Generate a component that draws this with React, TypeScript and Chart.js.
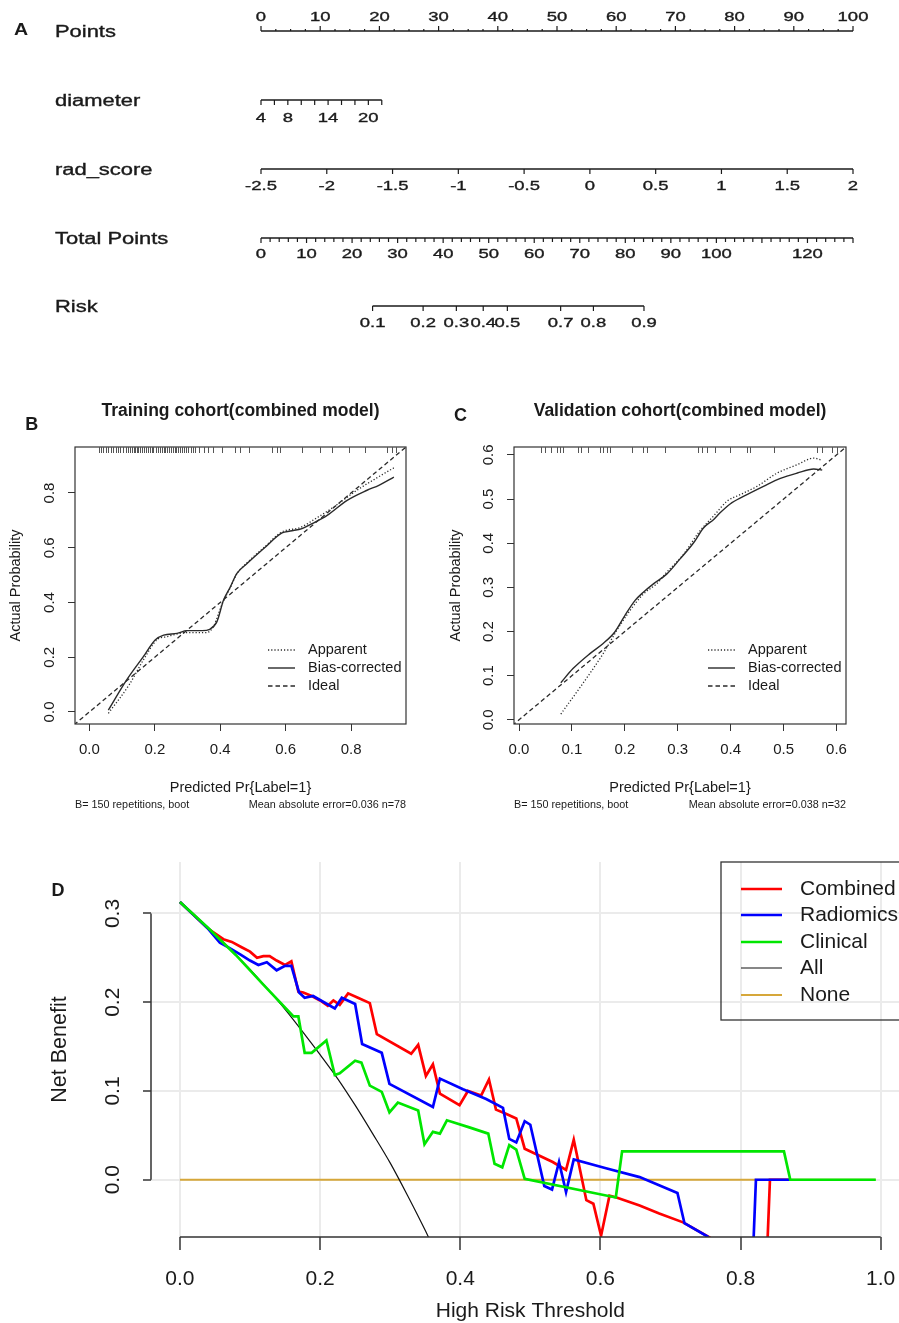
import React, { useEffect, useRef } from "react";
import { Chart, registerables } from "chart.js";

Chart.register(...registerables);

const FONT = '"Liberation Sans", Arial, Helvetica, sans-serif';
const INK = "#1a1a1a";
Chart.defaults.font.family = FONT;
Chart.defaults.color = INK;

/* ================= A: nomogram ================= */
const pointsLabels = [0, 10, 20, 30, 40, 50, 60, 70, 80, 90, 100];
const pointsMinorStep = 2.5;
const diameterRange = [4, 22];
const diameterMaxPoints = 20.4;
const diameterTicks = [4, 6, 8, 10, 12, 14, 16, 18, 20, 22];
const diameterLabels = [4, 8, 14, 20];
const radScoreTicks = [-2.5, -2, -1.5, -1, -0.5, 0, 0.5, 1, 1.5, 2];
const totalPointsRange = [0, 130];
const totalPointsMinorStep = 2;
const totalPointsLabels = [0, 10, 20, 30, 40, 50, 60, 70, 80, 90, 100, 120];
const riskLabels = ["0.1", "0.2", "0.3", "0.4", "0.5", "0.7", "0.8", "0.9"];
const riskAtTotalPoints = [24.5, 35.6, 42.9, 48.8, 54.1, 65.8, 73.0, 84.1];
const nomogramRows = ["Points", "diameter", "rad_score", "Total Points", "Risk"];

/* ================= B / C: calibration ================= */
const trainTicks = [0, 0.2, 0.4, 0.6, 0.8];
const trainRange = [-0.044, 0.968];
const trainApparentX = [0.058, 0.122, 0.165, 0.206, 0.237, 0.298, 0.359, 0.38, 0.405, 0.431, 0.451, 0.482, 0.533, 0.589, 0.645, 0.691, 0.747, 0.818, 0.88, 0.931];
const trainApparentY = [-0.005, 0.1, 0.19, 0.263, 0.275, 0.29, 0.29, 0.314, 0.392, 0.455, 0.505, 0.545, 0.6, 0.658, 0.674, 0.706, 0.749, 0.81, 0.856, 0.892];
const trainBiasX = [0.058, 0.114, 0.165, 0.201, 0.227, 0.268, 0.298, 0.345, 0.368, 0.39, 0.41, 0.431, 0.451, 0.482, 0.533, 0.589, 0.614, 0.65, 0.681, 0.727, 0.788, 0.849, 0.885, 0.931];
const trainBiasY = [0.007, 0.117, 0.202, 0.263, 0.281, 0.287, 0.297, 0.297, 0.302, 0.33, 0.408, 0.457, 0.506, 0.542, 0.597, 0.654, 0.661, 0.67, 0.688, 0.718, 0.773, 0.81, 0.828, 0.858];
const trainRug = [0.028, 0.035, 0.042, 0.05, 0.058, 0.066, 0.072, 0.08, 0.088, 0.095, 0.102, 0.112, 0.118, 0.124, 0.13, 0.136, 0.14, 0.146, 0.15, 0.156, 0.16, 0.166, 0.172, 0.178, 0.184, 0.19, 0.196, 0.204, 0.21, 0.216, 0.222, 0.228, 0.232, 0.238, 0.244, 0.25, 0.256, 0.262, 0.266, 0.27, 0.276, 0.282, 0.29, 0.296, 0.3, 0.31, 0.316, 0.322, 0.335, 0.35, 0.362, 0.378, 0.405, 0.446, 0.461, 0.487, 0.558, 0.574, 0.584, 0.65, 0.706, 0.742, 0.793, 0.844, 0.91, 0.926, 0.938];

const validTicks = [0, 0.1, 0.2, 0.3, 0.4, 0.5, 0.6];
const validRange = [-0.0095, 0.618];
const validApparentX = [0.079, 0.121, 0.159, 0.185, 0.21, 0.235, 0.26, 0.279, 0.311, 0.342, 0.368, 0.393, 0.418, 0.45, 0.488, 0.526, 0.557, 0.57];
const validApparentY = [0.013, 0.083, 0.15, 0.203, 0.248, 0.285, 0.308, 0.334, 0.375, 0.428, 0.462, 0.495, 0.51, 0.529, 0.559, 0.578, 0.593, 0.589];
const validBiasX = [0.079, 0.102, 0.134, 0.159, 0.181, 0.2, 0.219, 0.235, 0.254, 0.279, 0.304, 0.33, 0.349, 0.368, 0.38, 0.399, 0.424, 0.462, 0.494, 0.526, 0.557, 0.573];
const validBiasY = [0.084, 0.116, 0.15, 0.173, 0.199, 0.236, 0.27, 0.289, 0.308, 0.33, 0.364, 0.401, 0.435, 0.454, 0.469, 0.489, 0.506, 0.529, 0.547, 0.559, 0.568, 0.566];
const validRug = [0.042, 0.049, 0.061, 0.071, 0.077, 0.083, 0.112, 0.118, 0.131, 0.153, 0.159, 0.166, 0.172, 0.213, 0.235, 0.241, 0.276, 0.339, 0.346, 0.355, 0.371, 0.399, 0.431, 0.437, 0.481, 0.563, 0.573, 0.592, 0.601];

const idealLine = [-0.1, 1.1];
const calibLegend = ["Apparent", "Bias-corrected", "Ideal"];

/* ================= D: decision curves ================= */
const dcaXTicks = [0, 0.2, 0.4, 0.6, 0.8, 1.0];
const dcaYTicks = [0, 0.1, 0.2, 0.3];
const dcaXRange = [-0.0413, 1.0413];
const dcaYRange = [-0.0645, 0.358];
const combinedX = [0, 0.04, 0.062, 0.074, 0.088, 0.1, 0.11, 0.119, 0.128, 0.138, 0.15, 0.159, 0.169, 0.176, 0.188, 0.2, 0.211, 0.219, 0.228, 0.24, 0.254, 0.271, 0.281, 0.33, 0.34, 0.351, 0.361, 0.371, 0.399, 0.411, 0.43, 0.441, 0.451, 0.466, 0.48, 0.492, 0.532, 0.551, 0.562, 0.58, 0.59, 0.601, 0.613, 0.623, 0.656, 0.684, 0.718, 0.756, 0.8, 0.836, 0.842, 0.87];
const combinedY = [0.313, 0.283, 0.271, 0.268, 0.262, 0.257, 0.25, 0.252, 0.252, 0.247, 0.242, 0.246, 0.212, 0.211, 0.207, 0.202, 0.196, 0.202, 0.197, 0.21, 0.205, 0.199, 0.164, 0.142, 0.152, 0.117, 0.13, 0.097, 0.084, 0.1, 0.095, 0.113, 0.079, 0.074, 0.069, 0.035, 0.02, 0.011, 0.045, -0.023, -0.027, -0.063, -0.018, -0.02, -0.029, -0.038, -0.048, -0.065, -0.12, -0.12, 0, 0];
const radiomicsX = [0, 0.04, 0.057, 0.071, 0.086, 0.1, 0.112, 0.124, 0.138, 0.15, 0.159, 0.17, 0.178, 0.19, 0.221, 0.231, 0.25, 0.26, 0.288, 0.299, 0.361, 0.371, 0.404, 0.437, 0.461, 0.47, 0.48, 0.492, 0.5, 0.52, 0.531, 0.541, 0.551, 0.562, 0.608, 0.656, 0.71, 0.72, 0.753, 0.8, 0.816, 0.822, 0.87];
const radiomicsY = [0.313, 0.283, 0.267, 0.261, 0.254, 0.247, 0.242, 0.245, 0.236, 0.241, 0.241, 0.211, 0.205, 0.207, 0.193, 0.205, 0.198, 0.153, 0.143, 0.108, 0.082, 0.114, 0.102, 0.091, 0.081, 0.046, 0.042, 0.066, 0.062, -0.007, -0.011, 0.02, -0.014, 0.023, 0.013, 0.003, -0.015, -0.049, -0.064, -0.12, -0.12, 0, 0];
const clinicalX = [0, 0.04, 0.08, 0.12, 0.162, 0.169, 0.178, 0.188, 0.209, 0.221, 0.228, 0.25, 0.259, 0.271, 0.288, 0.299, 0.311, 0.34, 0.349, 0.361, 0.371, 0.381, 0.413, 0.44, 0.449, 0.46, 0.47, 0.48, 0.492, 0.622, 0.631, 0.862, 0.871, 0.993];
const clinicalY = [0.313, 0.284, 0.253, 0.219, 0.184, 0.184, 0.143, 0.143, 0.157, 0.118, 0.12, 0.134, 0.132, 0.106, 0.099, 0.076, 0.087, 0.078, 0.04, 0.054, 0.052, 0.067, 0.059, 0.052, 0.018, 0.014, 0.039, 0.034, 0.001, -0.02, 0.032, 0.032, 0, 0];
const allX = [0, 0.025, 0.05, 0.075, 0.1, 0.125, 0.15, 0.175, 0.2, 0.225, 0.25, 0.275, 0.3, 0.325, 0.35, 0.375];
const allY = [0.313, 0.295, 0.277, 0.257, 0.237, 0.215, 0.192, 0.167, 0.141, 0.114, 0.084, 0.052, 0.019, -0.018, -0.057, -0.099];
const noneX = [0, 0.993];
const noneY = [0, 0];
const dcaSeries = ["Combined", "Radiomics", "Clinical", "All", "None"];

/* ================= helpers ================= */
const zip = (xs: number[], ys: number[]) => xs.map((x, i) => ({ x, y: ys[i] }));

function drawText(
  ctx: CanvasRenderingContext2D,
  text: string,
  x: number,
  y: number,
  font: string,
  o: { align?: CanvasTextAlign; baseline?: CanvasTextBaseline; sx?: number; rot?: number; color?: string; heavy?: number } = {}
) {
  ctx.save();
  ctx.translate(x, y);
  if (o.rot) ctx.rotate(o.rot);
  if (o.sx && o.sx !== 1) ctx.scale(o.sx, 1);
  ctx.font = font;
  ctx.fillStyle = o.color || INK;
  ctx.textAlign = o.align || "center";
  ctx.textBaseline = o.baseline || "middle";
  ctx.fillText(text, 0, 0);
  if (o.heavy) {
    ctx.strokeStyle = o.color || INK;
    ctx.lineWidth = o.heavy;
    ctx.strokeText(text, 0, 0);
  }
  ctx.restore();
}

const baseOpts = {
  responsive: false,
  animation: false as const,
  devicePixelRatio: 1,
  events: [] as any[],
};

/* ---------- nomogram ---------- */
const NOMO_W = 899;
const NOMO_H = 345;
const NOMO_LEFT = 261;
const NOMO_RIGHT = 853;
const NOMO_ROW_Y = [31, 100, 169, 238, 306];
const NOMO_SX = 1.42;

const diamToPts = (d: number) =>
  ((d - diameterRange[0]) / (diameterRange[1] - diameterRange[0])) * diameterMaxPoints;

const nomogramPlugin = {
  id: "nomogramAxes",
  afterDatasetsDraw(chart: any) {
    const ctx: CanvasRenderingContext2D = chart.ctx;
    const xp = chart.scales.x;
    const xt = chart.scales.xTotal;
    const xr = chart.scales.xRad;
    const [ptsY, diamY, radY, totY, riskY] = NOMO_ROW_Y;
    const tickFont = `13px ${FONT}`;
    const tOpt = { sx: NOMO_SX, heavy: 0.35 };
    ctx.save();
    ctx.strokeStyle = INK;
    ctx.lineWidth = 1.2;
    const tick = (px: number, y: number, len: number) => {
      ctx.beginPath();
      ctx.moveTo(px, y);
      ctx.lineTo(px, y + len);
      ctx.stroke();
    };
    // Points
    for (let v = 0; v <= 100 + 1e-9; v += pointsMinorStep) {
      const major = Math.abs(v % 10) < 1e-9;
      tick(xp.getPixelForValue(v), ptsY, major ? -5 : -2);
    }
    pointsLabels.forEach((v) => drawText(ctx, String(v), xp.getPixelForValue(v), 17, tickFont, tOpt));
    // diameter
    diameterTicks.forEach((d) => tick(xp.getPixelForValue(diamToPts(d)), diamY, 5));
    diameterLabels.forEach((d) => drawText(ctx, String(d), xp.getPixelForValue(diamToPts(d)), diamY + 18, tickFont, tOpt));
    // rad_score
    radScoreTicks.forEach((r) => {
      const px = xr.getPixelForValue(r);
      tick(px, radY, 5);
      drawText(ctx, String(r), px, radY + 17, tickFont, tOpt);
    });
    // Total points
    for (let t = totalPointsRange[0]; t <= totalPointsRange[1] + 1e-9; t += totalPointsMinorStep) {
      tick(xt.getPixelForValue(t), totY, Math.abs(t % 10) < 1e-9 ? 5 : 4);
    }
    totalPointsLabels.forEach((t) => drawText(ctx, String(t), xt.getPixelForValue(t), totY + 16.5, tickFont, tOpt));
    // Risk
    riskAtTotalPoints.forEach((t, i) => {
      const px = xt.getPixelForValue(t);
      tick(px, riskY, 5);
      drawText(ctx, riskLabels[i], px, riskY + 17.5, tickFont, tOpt);
    });
    // row labels
    nomogramRows.forEach((lab, i) =>
      drawText(ctx, lab, 55, NOMO_ROW_Y[i] + 1.5, `16px ${FONT}`, { align: "left", sx: 1.37, heavy: 0.35 })
    );
    drawText(ctx, "A", 21, 30, `bold 17px ${FONT}`, { sx: 1.15 });
    ctx.restore();
  },
};

function makeNomogram() {
  const [ptsY, diamY, radY, totY, riskY] = NOMO_ROW_Y;
  const ds = (xAxisID: string, xs: number[], y: number) => ({
    data: xs.map((x) => ({ x, y })),
    xAxisID,
    yAxisID: "y",
    borderColor: INK,
    borderWidth: 1.3,
    pointRadius: 0,
    fill: false,
  });
  return {
    type: "line",
    data: {
      datasets: [
        ds("x", [pointsLabels[0], pointsLabels[pointsLabels.length - 1]], ptsY),
        ds("x", [diamToPts(diameterRange[0]), diamToPts(diameterRange[1])], diamY),
        ds("xRad", [radScoreTicks[0], radScoreTicks[radScoreTicks.length - 1]], radY),
        ds("xTotal", totalPointsRange, totY),
        ds("xTotal", [riskAtTotalPoints[0], riskAtTotalPoints[riskAtTotalPoints.length - 1]], riskY),
      ],
    },
    options: {
      ...baseOpts,
      layout: { padding: { left: NOMO_LEFT, right: NOMO_W - NOMO_RIGHT, top: 0, bottom: 0 } },
      scales: {
        x: { type: "linear", min: 0, max: 100, display: false },
        xTotal: { type: "linear", axis: "x", min: totalPointsRange[0], max: totalPointsRange[1], display: false },
        xRad: { type: "linear", axis: "x", min: radScoreTicks[0], max: radScoreTicks[radScoreTicks.length - 1], display: false },
        y: { type: "linear", min: 0, max: NOMO_H, reverse: true, display: false },
      },
      plugins: { legend: { display: false }, tooltip: { enabled: false } },
    },
    plugins: [nomogramPlugin],
  };
}

/* ---------- calibration ---------- */
const CAL_H = 430;
const CAL_TOP = 57;
const CAL_BOTTOM = 334;
const CAL_RIGHT = 406;
const CAL_INK = "#2a2a2a";

interface CalibSpec {
  canvasW: number;
  areaLeft: number;
  title: string;
  letter: string;
  letterPos: [number, number];
  range: number[];
  ticks: number[];
  apparentX: number[];
  apparentY: number[];
  biasX: number[];
  biasY: number[];
  rug: number[];
  footLeft: string;
  footRight: string;
}

function makeCalibPlugin(spec: CalibSpec) {
  return {
    id: "calibDecor",
    afterDraw(chart: any) {
      const ctx: CanvasRenderingContext2D = chart.ctx;
      const a = chart.chartArea;
      const xs = chart.scales.x;
      const ys = chart.scales.y;
      ctx.save();
      // box
      ctx.strokeStyle = "#333";
      ctx.lineWidth = 1.2;
      ctx.strokeRect(a.left, a.top, a.right - a.left, a.bottom - a.top);
      // rug
      ctx.strokeStyle = "#555";
      ctx.lineWidth = 1;
      spec.rug.forEach((v) => {
        const px = Math.round(xs.getPixelForValue(v)) + 0.5;
        ctx.beginPath();
        ctx.moveTo(px, a.top);
        ctx.lineTo(px, a.top + 6);
        ctx.stroke();
      });
      // y tick labels (rotated as in R)
      ys.ticks.forEach((t: any) =>
        drawText(ctx, Number(t.value).toFixed(1), a.left - 25, ys.getPixelForValue(t.value), `15px ${FONT}`, { rot: -Math.PI / 2 })
      );
      // legend
      const rows = [260, 278, 296];
      chart.data.datasets.forEach((d: any, i: number) => {
        ctx.save();
        ctx.strokeStyle = d.borderColor;
        ctx.lineWidth = d.borderWidth;
        ctx.setLineDash(d.borderDash || []);
        ctx.beginPath();
        ctx.moveTo(268, rows[i]);
        ctx.lineTo(295, rows[i]);
        ctx.stroke();
        ctx.restore();
        drawText(ctx, d.label, 308, rows[i], `14.5px ${FONT}`, { align: "left" });
      });
      // footnotes
      drawText(ctx, spec.footLeft, a.left, 415, `10.8px ${FONT}`, { align: "left" });
      drawText(ctx, spec.footRight, a.right, 415, `10.8px ${FONT}`, { align: "right" });
      // panel letter
      drawText(ctx, spec.letter, spec.letterPos[0], spec.letterPos[1], `bold 18px ${FONT}`);
      ctx.restore();
    },
  };
}

function makeCalib(spec: CalibSpec) {
  const line = { borderColor: CAL_INK, pointRadius: 0, fill: false };
  return {
    type: "line",
    data: {
      datasets: [
        { ...line, label: calibLegend[0], data: zip(spec.apparentX, spec.apparentY), borderWidth: 1.3, borderDash: [1.2, 2], cubicInterpolationMode: "monotone" },
        { ...line, label: calibLegend[1], data: zip(spec.biasX, spec.biasY), borderWidth: 1.4, cubicInterpolationMode: "monotone" },
        { ...line, label: calibLegend[2], data: idealLine.map((v) => ({ x: v, y: v })), borderWidth: 1.3, borderDash: [4.5, 3] },
      ],
    },
    options: {
      ...baseOpts,
      layout: { padding: { left: 0, right: spec.canvasW - CAL_RIGHT, top: 0, bottom: 0 } },
      scales: {
        x: {
          type: "linear",
          min: spec.range[0],
          max: spec.range[1],
          afterBuildTicks: (s: any) => {
            s.ticks = spec.ticks.map((v) => ({ value: v }));
          },
          afterFit: (s: any) => {
            s.height = CAL_H - CAL_BOTTOM;
          },
          ticks: { callback: (v: any) => Number(v).toFixed(1), font: { size: 15 }, color: INK, padding: 10, maxRotation: 0, autoSkip: false },
          grid: { drawOnChartArea: false, drawTicks: true, tickLength: 7, tickColor: "#333", tickWidth: 1, color: "#333" },
          border: { display: false },
          title: { display: true, text: "Predicted Pr{Label=1}", font: { size: 14.5 }, color: INK, padding: { top: 0, bottom: 23 } },
        },
        y: {
          type: "linear",
          min: spec.range[0],
          max: spec.range[1],
          afterBuildTicks: (s: any) => {
            s.ticks = spec.ticks.map((v) => ({ value: v }));
          },
          afterFit: (s: any) => {
            s.width = spec.areaLeft;
          },
          ticks: { display: false },
          grid: { drawOnChartArea: false, drawTicks: true, tickLength: 7, tickColor: "#333", tickWidth: 1, color: "#333" },
          border: { display: false },
          title: { display: true, text: "Actual Probability", font: { size: 14.5 }, color: INK, padding: { top: 7, bottom: 0 } },
        },
      },
      plugins: {
        legend: { display: false },
        tooltip: { enabled: false },
        title: {
          display: true,
          text: spec.title,
          fullSize: false,
          font: { size: 17.5, weight: "bold" },
          color: INK,
          padding: { top: 10.5, bottom: CAL_TOP - 10.5 - 21 },
        },
      },
    },
    plugins: [makeCalibPlugin(spec)],
  };
}

/* ---------- decision curves ---------- */
const DCA_W = 960;
const DCA_H = 483;
const DCA_LEFT = 151;
const DCA_TOP = 22;
const DCA_BOTTOM = 397;
const DCA_RIGHT = 909.6;

const dcaStyles = [
  { color: "#ff0000", width: 2.7, order: 3 },
  { color: "#0000ff", width: 2.7, order: 2 },
  { color: "#00e600", width: 2.7, order: 1 },
  { color: "#111111", width: 1.2, order: 4 },
  { color: "#d6a73a", width: 2.2, order: 5 },
];

const dcaPlugin = {
  id: "dcaDecor",
  afterDraw(chart: any) {
    const ctx: CanvasRenderingContext2D = chart.ctx;
    const a = chart.chartArea;
    const xs = chart.scales.x;
    const ys = chart.scales.y;
    ctx.save();
    ctx.strokeStyle = "#333";
    ctx.lineWidth = 1.5;
    // R-style axis lines (from first to last tick)
    ctx.beginPath();
    ctx.moveTo(xs.getPixelForValue(dcaXTicks[0]), a.bottom);
    ctx.lineTo(xs.getPixelForValue(dcaXTicks[dcaXTicks.length - 1]), a.bottom);
    ctx.moveTo(a.left, ys.getPixelForValue(dcaYTicks[0]));
    ctx.lineTo(a.left, ys.getPixelForValue(dcaYTicks[dcaYTicks.length - 1]));
    ctx.stroke();
    // rotated y labels
    dcaYTicks.forEach((v) =>
      drawText(ctx, v.toFixed(1), 113, ys.getPixelForValue(v), `21px ${FONT}`, { rot: -Math.PI / 2 })
    );
    // legend
    ctx.strokeStyle = "#333";
    ctx.lineWidth = 1.3;
    ctx.strokeRect(721, 22, 400, 158);
    const rows = [49, 75, 102, 128, 155];
    chart.data.datasets.forEach((d: any, i: number) => {
      ctx.strokeStyle = d.borderColor;
      ctx.lineWidth = d.borderWidth;
      ctx.beginPath();
      ctx.moveTo(741, rows[i]);
      ctx.lineTo(782, rows[i]);
      ctx.stroke();
      drawText(ctx, d.label, 800, rows[i], `21px ${FONT}`, { align: "left" });
    });
    drawText(ctx, "D", 58, 51, `bold 18px ${FONT}`);
    ctx.restore();
  },
};

function makeDca() {
  const series = [
    zip(combinedX, combinedY),
    zip(radiomicsX, radiomicsY),
    zip(clinicalX, clinicalY),
    zip(allX, allY),
    zip(noneX, noneY),
  ];
  return {
    type: "line",
    data: {
      datasets: series.map((data, i) => ({
        label: dcaSeries[i],
        data,
        borderColor: dcaStyles[i].color,
        borderWidth: dcaStyles[i].width,
        order: dcaStyles[i].order,
        pointRadius: 0,
        fill: false,
        clip: 0,
        cubicInterpolationMode: dcaSeries[i] === "All" ? "monotone" : "default",
      })),
    },
    options: {
      ...baseOpts,
      layout: { padding: { left: 0, right: DCA_W - DCA_RIGHT, top: DCA_TOP, bottom: 0 } },
      scales: {
        x: {
          type: "linear",
          min: dcaXRange[0],
          max: dcaXRange[1],
          afterBuildTicks: (s: any) => {
            s.ticks = dcaXTicks.map((v) => ({ value: v }));
          },
          afterFit: (s: any) => {
            s.height = DCA_H - DCA_BOTTOM;
          },
          ticks: { callback: (v: any) => Number(v).toFixed(1), font: { size: 21 }, color: INK, padding: 17, maxRotation: 0, autoSkip: false },
          grid: { color: "#ebebeb", lineWidth: 2, drawTicks: true, tickLength: 13, tickColor: "#333", tickWidth: 1.5 },
          border: { display: false },
          title: { display: true, text: "High Risk Threshold", font: { size: 21 }, color: INK, padding: { top: 0, bottom: -1 } },
        },
        y: {
          type: "linear",
          min: dcaYRange[0],
          max: dcaYRange[1],
          afterBuildTicks: (s: any) => {
            s.ticks = dcaYTicks.map((v) => ({ value: v }));
          },
          afterFit: (s: any) => {
            s.width = DCA_LEFT;
          },
          ticks: { display: false },
          grid: { color: "#ebebeb", lineWidth: 2, drawTicks: true, tickLength: 8, tickColor: "#333", tickWidth: 1.5 },
          border: { display: false },
          title: { display: true, text: "Net Benefit", font: { size: 21.5 }, color: INK, padding: { top: 47, bottom: 0 } },
        },
      },
      plugins: { legend: { display: false }, tooltip: { enabled: false } },
    },
    plugins: [dcaPlugin],
  };
}

/* ================= components ================= */
function ChartCanvas(props: { left: number; top: number; width: number; height: number; make: () => any }) {
  const ref = useRef<HTMLCanvasElement>(null);
  useEffect(() => {
    const chart = new Chart(ref.current as HTMLCanvasElement, props.make());
    return () => chart.destroy();
  }, []);
  return (
    <canvas
      ref={ref}
      width={props.width}
      height={props.height}
      style={{ position: "absolute", left: props.left, top: props.top, width: props.width, height: props.height }}
    />
  );
}

const trainSpec: CalibSpec = {
  canvasW: 440,
  areaLeft: 75,
  title: "Training cohort(combined model)",
  letter: "B",
  letterPos: [31.7, 35],
  range: trainRange,
  ticks: trainTicks,
  apparentX: trainApparentX,
  apparentY: trainApparentY,
  biasX: trainBiasX,
  biasY: trainBiasY,
  rug: trainRug,
  footLeft: "B= 150 repetitions, boot",
  footRight: "Mean absolute error=0.036 n=78",
};

const validSpec: CalibSpec = {
  canvasW: 459,
  areaLeft: 74,
  title: "Validation cohort(combined model)",
  letter: "C",
  letterPos: [20.5, 26],
  range: validRange,
  ticks: validTicks,
  apparentX: validApparentX,
  apparentY: validApparentY,
  biasX: validBiasX,
  biasY: validBiasY,
  rug: validRug,
  footLeft: "B= 150 repetitions, boot",
  footRight: "Mean absolute error=0.038 n=32",
};

export default function App() {
  return (
    <div
      style={{
        position: "absolute",
        left: 0,
        top: 0,
        width: 899,
        height: 1323,
        overflow: "hidden",
        background: "#ffffff",
      }}
    >
      <ChartCanvas left={0} top={0} width={NOMO_W} height={NOMO_H} make={makeNomogram} />
      <ChartCanvas left={0} top={390} width={440} height={CAL_H} make={() => makeCalib(trainSpec)} />
      <ChartCanvas left={440} top={390} width={459} height={CAL_H} make={() => makeCalib(validSpec)} />
      <ChartCanvas left={0} top={840} width={DCA_W} height={DCA_H} make={makeDca} />
    </div>
  );
}
